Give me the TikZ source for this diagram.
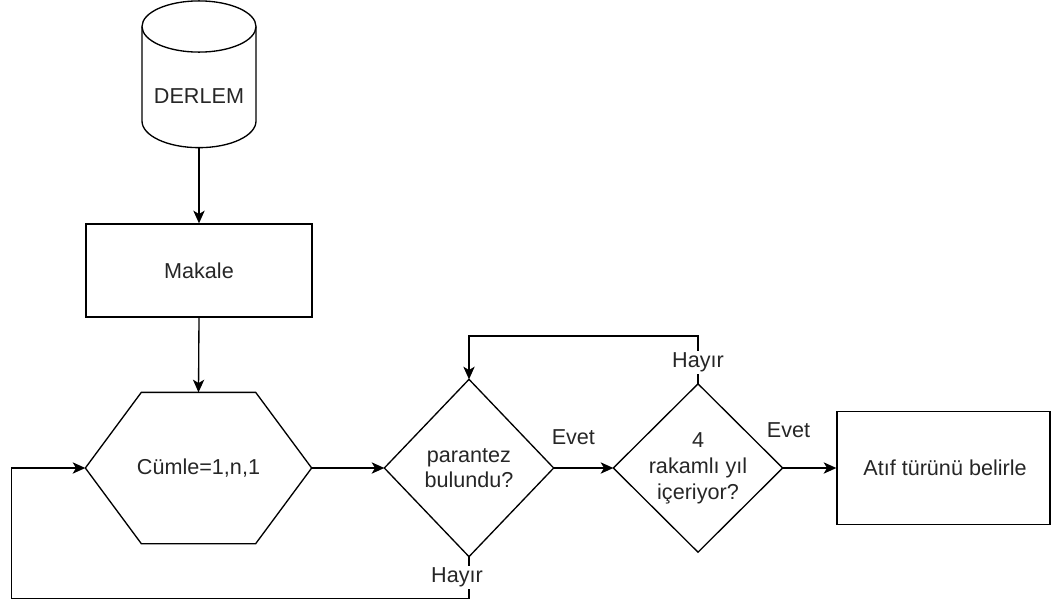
\documentclass[tikz,border=0pt]{standalone}
\usepackage{fontspec}
\setmainfont{Liberation Sans}
\usetikzlibrary{arrows.meta,calc}
\begin{document}
\begin{tikzpicture}[x=0.75pt,y=-0.75pt,
  line width=1pt, line join=miter,
  every node/.style={font=\fontsize{16.2pt}{19pt}\selectfont, text=black!85},
  holder/.style={draw=none, inner sep=0pt, align=center},
  boxed/.style={draw, inner sep=0pt, align=center},
  arr/.style={-{Stealth[length=9.5pt,width=8.5pt,inset=2.5pt]}},
  lbl/.style={fill=white, inner sep=1.5pt}]
\useasboundingbox (0,0) rectangle (1052,604);

% cylinder DERLEM
\draw (142,26.5) -- (142,121) arc[start angle=180, end angle=360, x radius=42.75pt, y radius=20pt] -- (256,26.5);
\draw (199,26.5) ellipse [x radius=42.75pt, y radius=19.2pt];
\node[holder] (db) at (199,96) {DERLEM};
\coordinate (dbbot) at (199,147.7);

% Makale
\node[boxed, minimum width=169.5pt, minimum height=69.75pt] (mk) at (199,270.5) {Makale};

% hexagon
\node[holder, minimum width=168.75pt, minimum height=112.5pt] (hx) at (198.5,468) {C\"umle=1,n,1};
\draw ($(hx.west)$) -- ($(hx.north west)+(56,0)$) -- ($(hx.north east)+(-56,0)$) -- (hx.east)
  -- ($(hx.south east)+(-56,0)$) -- ($(hx.south west)+(56,0)$) -- cycle;

% diamond 1
\node[holder, minimum width=126pt, minimum height=132pt] (d1) at (469,468) {parantez\\bulundu?};
\draw (d1.west) -- (d1.north) -- (d1.east) -- (d1.south) -- cycle;

% diamond 2
\node[holder, minimum width=126pt, minimum height=125.25pt, font=\fontsize{16.2pt}{19.5pt}\selectfont] (d2) at (698,468) {4\\rakaml\i{} y\i l\\i\c{c}eriyor?};
\draw (d2.west) -- (d2.north) -- (d2.east) -- (d2.south) -- cycle;

% result box
\node[boxed, minimum width=159.75pt, minimum height=84.75pt] (at) at (943.5,468) {};
\node[holder] (attxt) at (945,468) {At\i f t\"ur\"un\"u belirle};

% connectors
\draw[arr] (dbbot) -- (mk.north);
\draw[arr] (mk.south) -- (hx.north);
\draw[arr] (hx.east) -- (d1.west);
\draw[arr] (d1.east) -- node[pos=0.33, yshift=23pt]{Evet} (d2.west);
\draw[arr] (d2.east) -- node[pos=0.11, yshift=28.5pt]{Evet} (at.west);
\draw[arr] (d2.north) -- node[lbl, pos=0.45]{Hay\i r} ++(0,-48) -| (d1.north);
\draw[arr] (d1.south) -- node[lbl, pos=0.5, xshift=-9pt]{Hay\i r} ++(0,42) -| ($(hx.west)+(-74,0)$) -- (hx.west);
\end{tikzpicture}
\end{document}
